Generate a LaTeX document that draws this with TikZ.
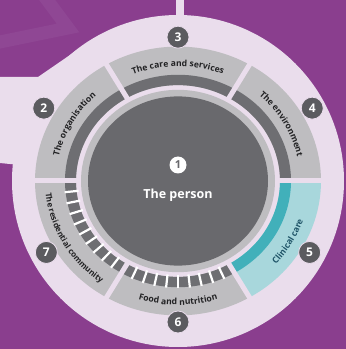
\documentclass[tikz,border=0pt]{standalone}
\usepackage{fontspec}
\setmainfont{Open Sans}
\usepackage{xcolor}
\usepackage{tikz}
\usetikzlibrary{decorations.text}
\definecolor{purplebg}{HTML}{8A3E8E}
\definecolor{chevpurple}{HTML}{8F4794}
\definecolor{lavender}{HTML}{EADDEC}
\definecolor{segL}{HTML}{BEBDC0}
\definecolor{segD}{HTML}{6E6E72}
\definecolor{tealL}{HTML}{A8D7DC}
\definecolor{tealD}{HTML}{41B0BA}
\definecolor{persongray}{HTML}{69696D}
\definecolor{badgegray}{HTML}{5B5B5F}
\definecolor{segtxt}{HTML}{222224}
\definecolor{tealtxt}{HTML}{1F5468}
\newcommand\segfont{\fontsize{8.6}{10}\selectfont\bfseries}
\newcommand\segfontsmall{\fontsize{8.1}{10}\selectfont\bfseries}

\tikzset{
  badge/.style={circle,fill=badgegray,draw=lavender,line width=0.8pt,minimum size=22pt,inner sep=0pt,
    text=white,font=\fontsize{12}{13}\selectfont\bfseries},
  gapline/.style={lavender,line width=5pt},
  stripe/.style={white,line width=2.2pt},
}

\begin{document}
\begin{tikzpicture}[x=1pt,y=1pt]
  \useasboundingbox (0,0) rectangle (346,349);
  \fill[purplebg] (0,0) rectangle (346,349);
  % faint chevron top left
  \draw[chevpurple,line width=13pt,line join=miter] (42,356) -- (68,321) -- (-5,306);
  % lavender ground
  \coordinate (C) at (178,168);
  \fill[lavender] (C) circle[radius=166];
  \fill[lavender] (0,272) -- (38,272) -- (86,305) -- (C) -- (0,186) -- cycle;
  \fill[lavender] (176,330) rectangle (184,349);

  \begin{scope}[shift={(C)},yscale=0.94]
    % segments
    \foreach \c/\lc/\dc in {90/segL/segD,150/segL/segD,30/segL/segD,330/tealL/tealD,270/segL/segD,210/segL/segD} {
      \fill[\lc] ({\c-30}:102) arc[start angle=\c-30,end angle=\c+30,radius=102]
        -- ({\c+30}:143) arc[start angle=\c+30,end angle=\c-30,radius=143] -- cycle;
      \fill[\dc] ({\c-30}:102) arc[start angle=\c-30,end angle=\c+30,radius=102]
        -- ({\c+30}:113) arc[start angle=\c+30,end angle=\c-30,radius=113] -- cycle;
    }
    \foreach \a in {0,60,...,300} \draw[gapline] (\a:98) -- (\a:148);
    % dashed bands
    \foreach \a in {246,252,...,294} \draw[stripe] (\a:100) -- (\a:114);
    \foreach \a in {186,192,...,234} \draw[stripe] (\a:100) -- (\a:114);
    % the person
    \fill[segL] (0,0) circle[radius=97];
    \fill[persongray] (0,0) circle[radius=90];
    % labels on the ring
    \path[decorate,decoration={text along path,text align=center,text={|\segfont\color{segtxt}|The care and services}}]
      (119:122) arc[start angle=119,end angle=61,radius=122];
    \path[decorate,decoration={text along path,text align=center,text={|\segfont\color{segtxt}|The organisation}}]
      (179:122) arc[start angle=179,end angle=121,radius=122];
    \path[decorate,decoration={text along path,text align=center,text={|\segfont\color{segtxt}|The environment}}]
      (59:122) arc[start angle=59,end angle=1,radius=122];
    \path[decorate,decoration={text along path,text align=center,text={|\segfont\color{tealtxt}|Clinical care}}]
      (-59:132) arc[start angle=-59,end angle=-1,radius=132];
    \path[decorate,decoration={text along path,text align=center,text={|\segfont\color{segtxt}|Food and nutrition}}]
      (241:132) arc[start angle=241,end angle=299,radius=132];
    \path[decorate,decoration={text along path,text align=center,text={|\segfontsmall\color{segtxt}|The residential community}}]
      (180.5:133) arc[start angle=180.5,end angle=239.5,radius=133];
    % numbers
    \node[badge] (b3) at (90:153) {3};
    \node[badge] (b2) at (150:155) {2};
    \node[badge] (b4) at (30:155) {4};
    \node[badge] (b5) at (-30:152) {5};
    \node[badge] (b6) at (270:150) {6};
    \node[badge] (b7) at (210:152) {7};
  \end{scope}

  \node[circle,fill=white,minimum size=17pt,inner sep=0pt,text=persongray,font=\fontsize{11}{12}\selectfont\bfseries]
    (b1) at ([yshift=16pt]C) {1};
  \node[text=white,font=\fontsize{12.5}{14}\selectfont\bfseries] (person) at ([yshift=-14pt]C) {The person};
\end{tikzpicture}
\end{document}
